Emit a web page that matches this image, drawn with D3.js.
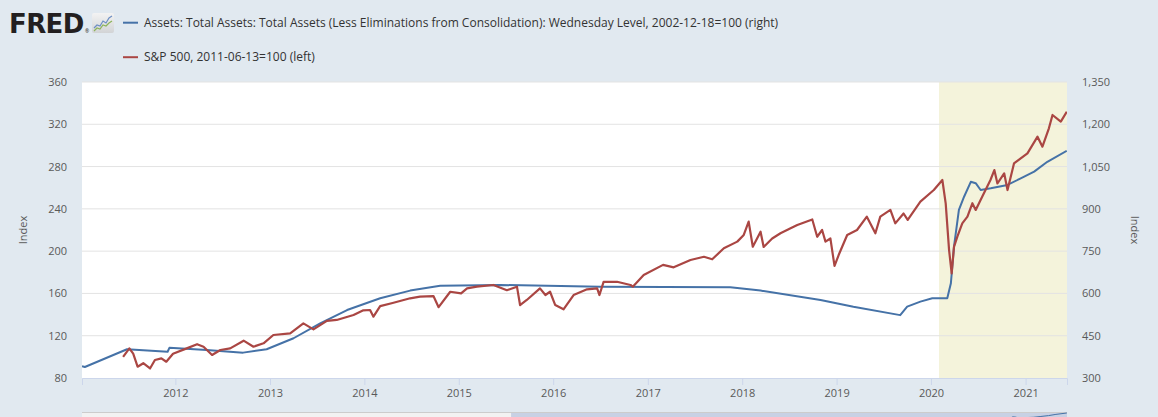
<!DOCTYPE html>
<html>
<head>
<meta charset="utf-8">
<script src="https://cdn.jsdelivr.net/npm/d3@7"></script>
<style>
  body { margin: 0; background: #e1e9f0; }
  svg { display: block; font-family: "Open Sans", sans-serif; }
</style>
</head>
<body>
<svg id="chart" width="1158" height="417"></svg>
<script>
// S&P 500, 2011-06-13=100 (left axis)
const spDates = ["2011-06-13","2011-07-07","2011-07-22","2011-08-08","2011-08-30","2011-09-25","2011-10-14","2011-11-08","2011-11-27","2011-12-23",
  "2012-02-14","2012-03-25","2012-04-19","2012-05-22","2012-06-23","2012-07-31","2012-09-21","2012-10-29","2012-12-07",
  "2013-01-14","2013-03-20","2013-05-10","2013-06-18","2013-08-09","2013-09-16","2013-11-20","2013-12-28",
  "2014-01-23","2014-02-05","2014-03-03","2014-04-20","2014-06-27","2014-08-04","2014-09-25","2014-10-15","2014-11-29",
  "2015-01-10","2015-02-02","2015-03-12","2015-05-15","2015-07-06","2015-08-14","2015-08-26","2015-09-21","2015-11-11","2015-12-02",
  "2015-12-20","2016-01-09","2016-02-10","2016-03-20","2016-05-11","2016-06-19","2016-06-28","2016-07-14","2016-09-04","2016-10-26",
  "2016-11-04","2016-12-16","2017-03-01","2017-04-11","2017-06-15","2017-08-06","2017-09-07","2017-10-22","2017-12-13",
  "2018-01-07","2018-01-26","2018-02-11","2018-03-13","2018-03-25","2018-04-27","2018-05-29","2018-07-07","2018-08-02","2018-09-29",
  "2018-10-18","2018-11-06","2018-11-19","2018-12-08","2018-12-24",
  "2019-01-09","2019-02-11","2019-03-21","2019-04-28","2019-05-31","2019-06-19","2019-07-28","2019-08-16","2019-09-17","2019-10-03","2019-11-21",
  "2020-01-12","2020-02-14","2020-02-27","2020-03-11","2020-03-21","2020-03-30","2020-04-12","2020-05-01","2020-05-21","2020-06-09",
  "2020-06-22","2020-07-17","2020-08-18","2020-09-02","2020-09-14","2020-10-10","2020-10-23","2020-11-17",
  "2021-01-08","2021-02-16","2021-03-07","2021-04-01","2021-04-15","2021-05-17","2021-06-09"];
const spValues = [100,108,103,90.7,94,89,97,98.6,95.4,103,
  108,112,109.6,101.8,106.5,108,115.3,109.6,112.8,
  120.7,122.3,131.7,126,134,134.9,139.6,144,
  144.3,138,148,151,155.4,157,157.5,147,161.6,
  160,164.8,166.4,168,163,166.4,149,153.8,164.8,158.5,
  161.6,149,145,158.5,163.9,164.8,158.5,171,171,168,
  166.4,177.4,187,184.7,191.6,194.7,192.3,202.7,209,
  215.3,227.9,204.2,218.4,204,212,216.9,221.6,224.7,230,
  213.6,220,209,212,186,
  196.3,215.3,220,232.6,216.9,232.6,239,226.3,235.6,229.5,246.8,
  257.8,267.3,245,201,179,204,213.7,226.3,232.6,245.3,
  239,251.5,267.3,276.7,264,273.6,257.8,283,
  292.5,308.3,298.8,316.2,328.8,322.5,331.9];

// Total assets, Wednesday level, 2002-12-18=100 (right axis)
const assetDates = ["2011-01-05","2011-01-16","2011-06-28","2011-12-02","2011-12-09","2012-05-01","2012-09-19","2012-12-19",
  "2013-04-02","2013-07-14","2013-10-26","2014-03-03","2014-06-27","2014-10-21","2015-06-10","2016-07-01","2017-11-16",
  "2018-03-13","2018-10-31","2019-03-07","2019-09-04","2019-10-01","2019-11-21","2020-01-06","2020-03-04","2020-03-18",
  "2020-03-30","2020-04-18","2020-05-08","2020-06-03","2020-06-22","2020-07-11","2020-08-19","2020-10-23","2020-12-13",
  "2021-02-03","2021-03-26","2021-06-09"];
const assetValues = [342,339,402,393,407,399,390,402,
  441,494,541,583,610,627,630,624,622,
  610,577,553,523,553,571,583,583,636,
  766,896,943,996,991,967,973,985,1008,
  1032,1067,1106];

const leftTicks = [80, 120, 160, 200, 240, 280, 320, 360];
const rightTicks = [300, 450, 600, 750, 900, 1050, 1200, 1350];
const yearTicks = [2012, 2013, 2014, 2015, 2016, 2017, 2018, 2019, 2020, 2021];
const recession = [["2020-02-01", "2021-06-10"]];

const seriesNames = [
  "Assets: Total Assets: Total Assets (Less Eliminations from Consolidation): Wednesday Level, 2002-12-18=100 (right)",
  "S&P 500, 2011-06-13=100 (left)"
];
const colors = ["#4572a7", "#aa4643"];

const parse = d3.timeParse("%Y-%m-%d");
const sp = spDates.map((d, i) => ({ date: parse(d), value: spValues[i] }));
const assets = assetDates.map((d, i) => ({ date: parse(d), value: assetValues[i] }));

const margin = { top: 82, right: 91, bottom: 39, left: 82 };
const width = 1158 - margin.left - margin.right;
const height = 417 - margin.top - margin.bottom;

const svg = d3.select('#chart');

// FRED logo
const logo = svg.append('g');
const grad = svg.append('defs').append('linearGradient')
    .attr('id', 'icongrad').attr('x1', 0).attr('y1', 0).attr('x2', 0).attr('y2', 1);
grad.append('stop').attr('offset', '0%').attr('stop-color', '#f3f3f3');
grad.append('stop').attr('offset', '100%').attr('stop-color', '#d2d4d6');
logo.append('text')
    .attr('x', 9).attr('y', 33)
    .style('font-family', '"DejaVu Sans", sans-serif')
    .style('font-weight', 'bold')
    .style('font-size', '26px')
    .style('letter-spacing', '-0.6px')
    .style('fill', '#231f20')
    .text('FRED');
logo.append('text')
    .attr('x', 85).attr('y', 33)
    .style('font-size', '5px').style('fill', '#231f20')
    .text('®');
logo.append('rect')
    .attr('x', 92).attr('y', 13).attr('width', 22).attr('height', 20).attr('rx', 2)
    .attr('fill', 'url(#icongrad)');
logo.append('path')
    .attr('d', 'M94,28 L97,25 L100,26 L103,21 L106,23 L109,18 L112,16')
    .attr('fill', 'none').attr('stroke', '#6d8fc4').attr('stroke-width', 1.2);
logo.append('path')
    .attr('d', 'M94,31 L97,28 L100,29 L103,25 L106,26 L109,23 L112,21')
    .attr('fill', 'none').attr('stroke', '#8cb35a').attr('stroke-width', 1.2);

// Legend
const legend = svg.append('g')
  .selectAll('g')
  .data(seriesNames)
  .enter().append('g')
    .attr('transform', (d, i) => `translate(123,${22.7 + i * 34.5})`);
legend.append('line')
    .attr('x1', 0).attr('x2', 15)
    .attr('stroke', (d, i) => colors[i])
    .attr('stroke-width', 2);
legend.append('text')
    .attr('x', 21).attr('dy', '0.35em')
    .style('font-size', '12px')
    .style('fill', '#333')
    .text(d => d);

const g = svg.append('g')
    .attr('transform', `translate(${margin.left},${margin.top})`);

// Scales
const x = d3.scaleTime()
    .domain([parse("2011-01-05"), parse("2021-06-10")])
    .range([0, width]);
const yLeft = d3.scaleLinear().domain([80, 360]).range([height, 0]);
const yRight = d3.scaleLinear().domain([300, 1350]).range([height, 0]);

// Plot background
g.append('rect')
    .attr('width', width).attr('height', height)
    .attr('fill', '#fff');

// Recession shading
g.selectAll('.recession')
  .data(recession)
  .enter().append('rect')
    .attr('class', 'recession')
    .attr('x', d => x(parse(d[0])))
    .attr('width', d => x(parse(d[1])) - x(parse(d[0])))
    .attr('height', height)
    .attr('fill', '#f4f3db');

// Gridlines
g.append('g')
  .selectAll('line')
  .data(leftTicks.slice(1))
  .enter().append('line')
    .attr('x1', 0).attr('x2', width)
    .attr('y1', d => yLeft(d)).attr('y2', d => yLeft(d))
    .attr('stroke', '#e3e3e3')
    .attr('stroke-width', 1);

// Series lines
g.append('clipPath').attr('id', 'plotclip')
  .append('rect').attr('width', width).attr('height', height);

g.append('path')
    .datum(assets)
    .attr('clip-path', 'url(#plotclip)')
    .attr('fill', 'none')
    .attr('stroke', colors[0])
    .attr('stroke-width', 2)
    .attr('stroke-linejoin', 'round')
    .attr('d', d3.line().x(d => x(d.date)).y(d => yRight(d.value)));

g.append('path')
    .datum(sp)
    .attr('clip-path', 'url(#plotclip)')
    .attr('fill', 'none')
    .attr('stroke', colors[1])
    .attr('stroke-width', 2.2)
    .attr('stroke-linejoin', 'round')
    .attr('d', d3.line().x(d => x(d.date)).y(d => yLeft(d.value)));

// x-axis
const xAxis = g.append('g')
    .attr('transform', `translate(0,${height})`)
    .call(d3.axisBottom(x)
      .tickValues(yearTicks.map(yr => new Date(yr, 0, 1)))
      .tickFormat(d3.timeFormat('%Y'))
      .tickSize(7)
      .tickPadding(4));
xAxis.select('.domain').attr('stroke', '#ccd6eb');
xAxis.selectAll('.tick line').attr('stroke', '#ccd6eb');
xAxis.selectAll('text')
    .style('font-size', '11px')
    .style('fill', '#595959')
    .style('font-family', '"Open Sans", sans-serif');

// Left axis
const leftAxis = g.append('g')
    .call(d3.axisLeft(yLeft).tickValues(leftTicks).tickSize(0).tickPadding(15));
leftAxis.select('.domain').remove();
leftAxis.selectAll('text')
    .style('font-size', '11px')
    .style('fill', '#595959')
    .style('font-family', '"Open Sans", sans-serif');

// Right axis
const rightAxis = g.append('g')
    .attr('transform', `translate(${width},0)`)
    .call(d3.axisRight(yRight).tickValues(rightTicks).tickSize(0).tickPadding(15)
      .tickFormat(d3.format(',')));
rightAxis.select('.domain').remove();
rightAxis.selectAll('text')
    .style('font-size', '11px')
    .style('fill', '#595959')
    .style('font-family', '"Open Sans", sans-serif');

// Axis titles
svg.append('text')
    .attr('transform', `translate(23,${margin.top + height / 2}) rotate(-90)`)
    .attr('text-anchor', 'middle')
    .attr('dy', '0.35em')
    .style('font-size', '11px')
    .style('fill', '#595959')
    .text('Index');
svg.append('text')
    .attr('transform', `translate(1135,${margin.top + height / 2}) rotate(90)`)
    .attr('text-anchor', 'middle')
    .attr('dy', '0.35em')
    .style('font-size', '11px')
    .style('fill', '#595959')
    .text('Index');

// Navigator strip at the bottom
const navX = d3.scaleTime()
    .domain([parse("2002-12-18"), parse("2021-06-10")])
    .range([margin.left, margin.left + width]);
const navY = d3.scaleLinear().domain([0, 1106]).range([452, 413]);
const nav = svg.append('g');
nav.append('rect')
    .attr('x', margin.left).attr('y', 412)
    .attr('width', width).attr('height', 40)
    .attr('fill', '#f2f2f2');
nav.append('rect')
    .attr('x', navX(x.domain()[0])).attr('y', 412)
    .attr('width', navX(x.domain()[1]) - navX(x.domain()[0])).attr('height', 40)
    .attr('fill', 'rgba(102,133,194,0.3)');
nav.append('line')
    .attr('x1', margin.left).attr('x2', margin.left + width)
    .attr('y1', 412.5).attr('y2', 412.5)
    .attr('stroke', '#cccccc');
nav.append('path')
    .datum(assets)
    .attr('fill', 'none')
    .attr('stroke', colors[0])
    .attr('stroke-width', 1)
    .attr('d', d3.line().x(d => navX(d.date)).y(d => navY(d.value)));
</script>
</body>
</html>
